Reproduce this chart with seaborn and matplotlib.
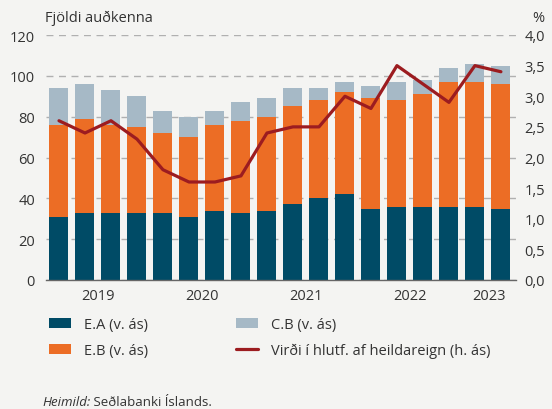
import matplotlib
matplotlib.use("Agg")
import matplotlib.pyplot as plt
import seaborn as sns
import numpy as np
import pandas as pd
from matplotlib.patches import Patch
from matplotlib.lines import Line2D

# ---- data ----
quarters = ["2019Q1", "2019Q2", "2019Q3", "2019Q4",
            "2020Q1", "2020Q2", "2020Q3", "2020Q4",
            "2021Q1", "2021Q2", "2021Q3", "2021Q4",
            "2022Q1", "2022Q2", "2022Q3", "2022Q4",
            "2023Q1", "2023Q2"]
ea = [31, 33, 33, 33, 33, 31, 34, 33, 34, 37, 40, 42, 35, 36, 36, 36, 36, 35]
eb = [45, 46, 43, 42, 39, 39, 42, 45, 46, 48, 48, 50, 54, 52, 55, 61, 61, 61]
cb = [18, 17, 17, 15, 11, 10, 7, 9, 9, 9, 6, 5, 6, 9, 7, 7, 9, 9]
share = [2.6, 2.4, 2.6, 2.3, 1.8, 1.6, 1.6, 1.7, 2.4, 2.5, 2.5, 3.0, 2.8, 3.5, 3.2, 2.9, 3.5, 3.4]
years = ["2019", "2020", "2021", "2022", "2023"]
left_ticks = [0, 20, 40, 60, 80, 100, 120]
right_ticks = [0.0, 0.5, 1.0, 1.5, 2.0, 2.5, 3.0, 3.5, 4.0]
labels = ["E.A (v. ás)", "E.B (v. ás)", "C.B (v. ás)", "Virði í hlutf. af heildareign (h. ás)"]

# ---- style ----
BG = "#F4F4F2"
C_EA = "#004B66"
C_EB = "#EC6D25"
C_CB = "#A6B9C6"
C_LINE = "#9C1C20"
TXT = "#333333"

sns.set_theme(style="white")
plt.rcParams["font.family"] = ["Open Sans", "DejaVu Sans"]
plt.rcParams["font.size"] = 10.5

df = pd.DataFrame({"q": quarters, "ea": ea, "eb": eb, "cb": cb, "share": share})
df["l1"] = df["ea"]
df["l2"] = df["ea"] + df["eb"]
df["l3"] = df["l2"] + df["cb"]
df["i"] = np.arange(len(df))

fig = plt.figure(figsize=(5.52, 4.10), dpi=100, facecolor=BG)
ax = fig.add_axes([46 / 552, 1 - 281 / 410, 470 / 552, 245 / 410])
ax.set_facecolor(BG)

bw = 19 / 26
for col, c in [("l3", C_CB), ("l2", C_EB), ("l1", C_EA)]:
    sns.barplot(data=df, x="q", y=col, color=c, width=bw, ax=ax,
                saturation=1, zorder=2, edgecolor="none", linewidth=0)

ax.set_xlim(-0.5, 17.58)
ax.set_ylim(0, 120)
ax.set_yticks(left_ticks)
ax.set_yticklabels([str(t) for t in left_ticks])
ax.yaxis.grid(True, color="#B0B0B0", linestyle=(0, (5, 4)), linewidth=1.0, zorder=0)
ax.set_axisbelow(True)
ax.tick_params(axis="y", length=0, pad=8, labelcolor=TXT, labelsize=10.5)
ax.set_xlabel("")
ax.set_ylabel("")

# x axis: separators as major ticks, year labels as minor ticks
seps = [-0.5, 3.5, 7.5, 11.5, 15.5, 17.58]
ax.set_xticks(seps)
ax.set_xticklabels([""] * len(seps))
ax.set_xticks([1.5, 5.5, 9.5, 13.5, 16.54], minor=True)
ax.set_xticklabels(years, minor=True)
ax.tick_params(axis="x", which="major", length=6, width=1, color="#666666", direction="out")
ax.tick_params(axis="x", which="minor", length=0, pad=6, labelcolor=TXT, labelsize=10.5)

for s in ["top", "right", "left"]:
    ax.spines[s].set_visible(False)
ax.spines["bottom"].set_color("#666666")
ax.spines["bottom"].set_linewidth(1)
ax.spines["bottom"].set_zorder(5)

# right axis line
ax2 = ax.twinx()
sns.lineplot(data=df, x="i", y="share", color=C_LINE, linewidth=2.3, ax=ax2, zorder=4)
ax2.set_xlim(-0.5, 17.58)
ax2.set_ylim(0, 4)
ax2.set_yticks(right_ticks)
ax2.set_yticklabels([f"{t:.1f}".replace(".", ",") for t in right_ticks])
ax2.tick_params(axis="y", length=0, pad=6, labelcolor=TXT, labelsize=10.5)
ax2.set_xlabel("")
ax2.set_ylabel("")
for s in ["top", "right", "left", "bottom"]:
    ax2.spines[s].set_visible(False)

fig.text(45 / 552, 1 - 18 / 410, "Fjöldi auðkenna", ha="left", va="center", color=TXT, fontsize=10.5)
fig.text(544 / 552, 1 - 18 / 410, "%", ha="right", va="center", color=TXT, fontsize=10.5)

handles = [Patch(facecolor=C_EA, edgecolor="none"),
           Patch(facecolor=C_EB, edgecolor="none"),
           Patch(facecolor=C_CB, edgecolor="none"),
           Line2D([0], [0], color=C_LINE, linewidth=2.3)]
fig.legend(handles, labels, ncol=2, loc="upper left",
           bbox_to_anchor=(36 / 552, 1 - 305 / 410), frameon=False,
           handlelength=1.5, handleheight=0.65, handletextpad=0.9,
           columnspacing=6.0, labelspacing=0.75, fontsize=10.5, labelcolor=TXT)

t1 = fig.text(42 / 552, 1 - 406 / 410, "Heimild:", ha="left", va="baseline",
              fontstyle="italic", color=TXT, fontsize=9.5)
ax.annotate(" Seðlabanki Íslands.", xy=(1, 0), xycoords=t1, va="bottom", ha="left",
            color=TXT, fontsize=9.5, annotation_clip=False)

fig.savefig("out.png", dpi=100, facecolor=BG)
